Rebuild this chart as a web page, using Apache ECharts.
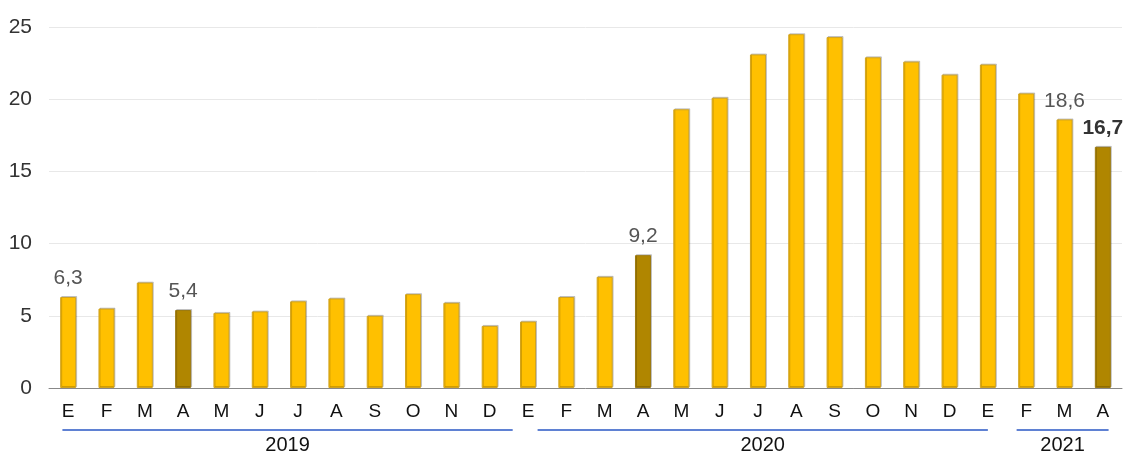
<!DOCTYPE html>
<html>
<head>
<meta charset="utf-8">
<script src="https://cdn.jsdelivr.net/npm/echarts@6/dist/echarts.min.js"></script>
<style>html,body{margin:0;padding:0;background:#fff}#c{width:1126px;height:454px}</style>
</head>
<body>
<div id="c"></div>
<script>
const months = ['E','F','M','A','M','J','J','A','S','O','N','D','E','F','M','A','M','J','J','A','S','O','N','D','E','F','M','A'];
const values = [6.3,5.5,7.3,5.4,5.2,5.3,6.0,6.2,5.0,6.5,5.9,4.3,4.6,6.3,7.7,9.2,19.3,20.1,23.1,24.5,24.3,22.9,22.6,21.7,22.4,20.4,18.6,16.7];
const highlighted = [3,15,27];
const labelled = [0,3,15,26,27];
const boldLabel = [27];
const yearNames = ['2019','2020','2021'];
const yearSpans = [[-0.15,11.6],[12.25,24.0],[24.75,27.15]];

const chart = echarts.init(document.getElementById('c'));
const FONT = '"Liberation Sans", Arial, sans-serif';
const data = values.map((v,i)=>{
  const o = {value:v};
  if (highlighted.includes(i)) o.itemStyle = {color:'#B08600', borderColor:'#9c7a10'};
  if (labelled.includes(i)) {
    o.label = {show:true, position:'top', distance:8, fontSize:21, fontFamily:FONT,
      color: boldLabel.includes(i) ? '#333' : '#555',
      fontWeight: boldLabel.includes(i) ? 'bold' : 'normal',
      formatter: p => String(p.value).replace('.', ',')};
  }
  return o;
});
chart.setOption({
  animation:false,
  grid:{left:49, right:4, top:27, bottom:66, containLabel:false},
  xAxis:{type:'category', data:months,
    axisLine:{lineStyle:{color:'#888', width:1}}, axisTick:{show:false},
    axisLabel:{fontSize:19, fontFamily:FONT, color:'#111', margin:14}},
  yAxis:{type:'value', min:0, max:25, interval:5,
    axisLine:{show:false}, axisTick:{show:false},
    splitLine:{lineStyle:{color:'#e8e8e8'}},
    axisLabel:{fontSize:21, fontFamily:FONT, color:'#333', margin:17}},
  series:[{type:'bar', data:data, barWidth:16,
    itemStyle:{color:'#FFC000', borderColor:'#D1A31E', borderWidth:1,
      shadowColor:'rgba(0,0,0,0.18)', shadowOffsetX:1, shadowOffsetY:-1, shadowBlur:0}}]
});
const x0 = chart.convertToPixel({xAxisIndex:0}, 0);
const x1 = chart.convertToPixel({xAxisIndex:0}, 1);
const bw = x1 - x0;
const g = [];
yearSpans.forEach((s,i)=>{
  const a = x0 + s[0]*bw, b = x0 + s[1]*bw;
  g.push({type:'line', shape:{x1:a, y1:430, x2:b, y2:430}, style:{stroke:'#2a57c4', lineWidth:1.5}});
  g.push({type:'text', x:(a+b)/2, y:445, style:{text:yearNames[i], fontSize:20, fontFamily:FONT, fill:'#111', align:'center', verticalAlign:'middle'}});
});
chart.setOption({graphic:g});
</script>
</body>
</html>
